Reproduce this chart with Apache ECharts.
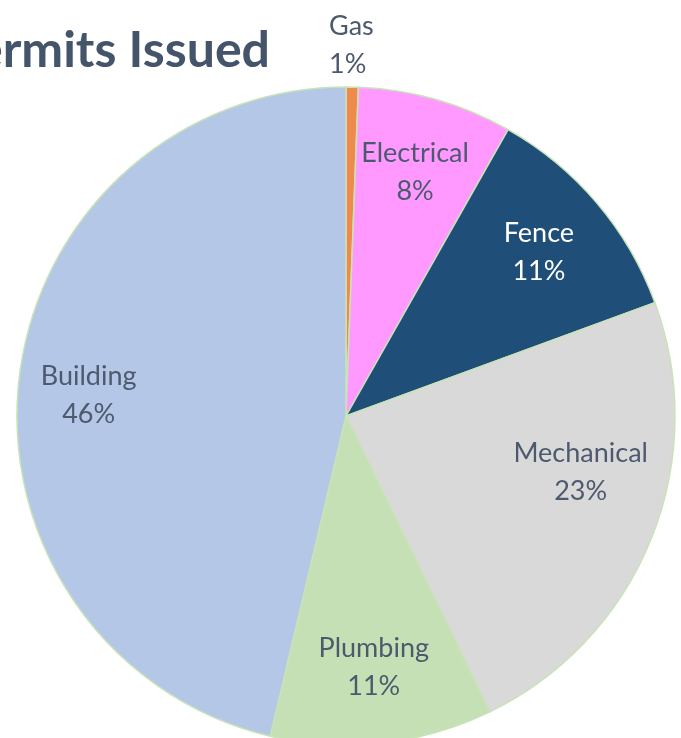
<!DOCTYPE html>
<html><head><meta charset="utf-8">
<script src="https://cdn.jsdelivr.net/npm/echarts@6/dist/echarts.min.js"></script>
<style>html,body{margin:0;padding:0;background:#fff}#c{width:681px;height:738px}</style>
</head><body><div id="c"></div>
<script>
var categories = ['Gas', 'Electrical', 'Fence', 'Mechanical', 'Plumbing', 'Building'];
var values = [0.6, 7.6, 11.2, 23.4, 10.9, 46.3];
var colors = ['#f08a4b', '#ff99ff', '#1f4e79', '#d9d9d9', '#c5e0b4', '#b4c7e7'];
var titleText = 'Permits Issued';

var chart = echarts.init(document.getElementById('c'));
var R = 329, C = [346, 416];
var fmt = function (p) { return p.name + '\n' + Math.round(p.percent) + '%'; };
var pieData = categories.map(function (n, i) {
  return { name: n, value: values[i], itemStyle: { color: colors[i] } };
});
var labelData = categories.map(function (n, i) {
  var d = { name: n, value: values[i] };
  if (n === 'Gas') {
    d.label = { position: 'outside', distanceToLabelLine: 0, offset: [-24, 0] };
    d.labelLine = { show: false, length: 42, length2: 0 };
  }
  if (n === 'Fence') d.label = { color: '#ffffff' };
  if (n === 'Mechanical') d.label = { offset: [0, -38] };
  if (n === 'Building') d.label = { offset: [-6, 9] };
  return d;
});
chart.setOption({
  animation: false,
  title: {
    text: titleText, right: 411, top: 26, padding: 0,
    textStyle: { fontFamily: 'Lato', fontWeight: 'bold', fontSize: 50, color: '#44546a' }
  },
  series: [{
    type: 'pie', center: C, radius: R, startAngle: 90, clockwise: true,
    data: pieData, label: { show: false }, labelLine: { show: false },
    itemStyle: { borderColor: '#c9e3b8', borderWidth: 1.5 }, silent: true
  }, {
    type: 'pie', center: C, radius: [R * 0.52, R], startAngle: 90, clockwise: true,
    percentPrecision: 2, silent: true,
    itemStyle: { color: 'transparent', borderWidth: 0 },
    labelLine: { show: false },
    label: { show: true, position: 'inside', formatter: fmt, fontFamily: 'Lato',
             fontSize: 27, lineHeight: 38, color: '#4d5a6e' },
    data: labelData
  }]
});
</script></body></html>
